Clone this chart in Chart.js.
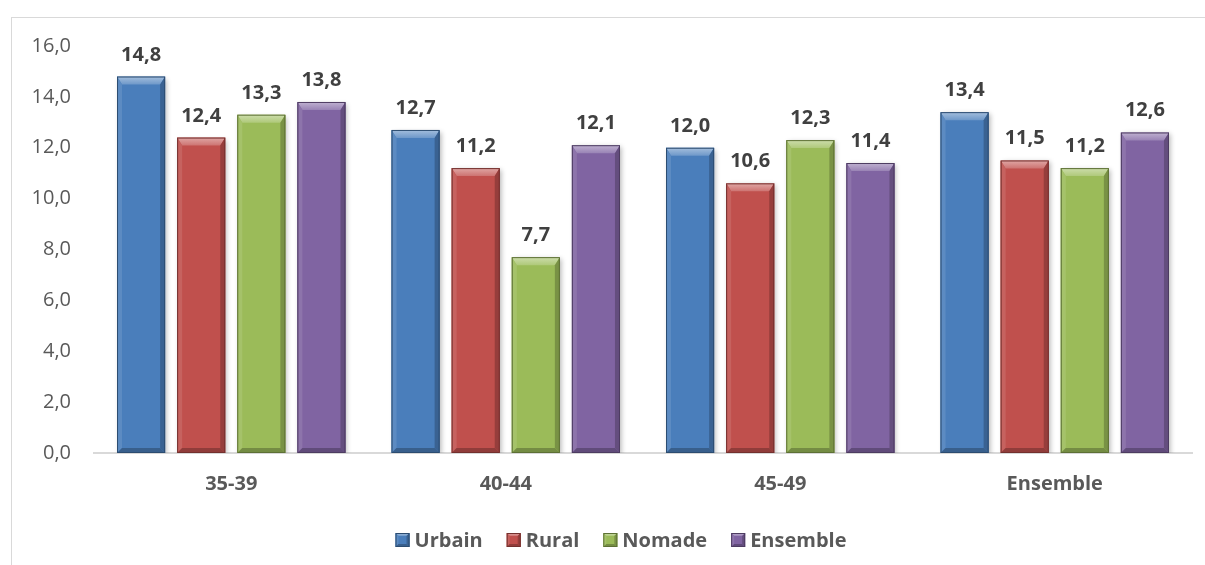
<!DOCTYPE html>
<html>
<head>
<meta charset="utf-8">
<script src="https://cdn.jsdelivr.net/npm/chart.js@4"></script>
<style>
  html, body { margin: 0; padding: 0; background: #fff; overflow: hidden; }
  #wrap { position: relative; width: 1205px; height: 565px; }
  #frame { position: absolute; left: 11px; top: 17px; width: 1300px; height: 700px; border: 1px solid #d9d9d9; box-sizing: border-box; }
  canvas { position: absolute; left: 0; top: 0; }
</style>
</head>
<body>
<div id="wrap">
  <div id="frame"></div>
  <canvas id="c" width="1205" height="565"></canvas>
</div>
<script>
// Age groups and the four residence series
const categories = ['35-39', '40-44', '45-49', 'Ensemble'];
const seriesNames = ['Urbain', 'Rural', 'Nomade', 'Ensemble'];
const urbain   = [14.8, 12.7, 12.0, 13.4];
const rural    = [12.4, 11.2, 10.6, 11.5];
const nomade   = [13.3, 7.7, 12.3, 11.2];
const ensemble = [13.8, 12.1, 11.4, 12.6];
const yTicks   = [0, 2, 4, 6, 8, 10, 12, 14, 16];

const colors = ['#4a7ebb', '#c0504d', '#9bbb59', '#8064a2'];
const fmt = v => v.toFixed(1).replace('.', ',');
const FONT = '"Open Sans", Lato, sans-serif';

function shade(hex, amt) {
  const n = parseInt(hex.slice(1), 16);
  let r = (n >> 16) & 255, g = (n >> 8) & 255, b = n & 255;
  const f = c => amt >= 0 ? Math.round(c + (255 - c) * amt) : Math.round(c * (1 + amt));
  return `rgb(${f(r)},${f(g)},${f(b)})`;
}

// Draw the bevel facets of a rectangle (used for the bars and the legend swatches)
function bevelRect(ctx, base, l, t, r, btm, b, s) {
  const tg = ctx.createLinearGradient(0, t, 0, t + b);
  tg.addColorStop(0, shade(base, 0.5));
  tg.addColorStop(1, shade(base, 0.2));
  ctx.fillStyle = tg;
  ctx.beginPath();
  ctx.moveTo(l, t); ctx.lineTo(r, t); ctx.lineTo(r - s, t + b); ctx.lineTo(l + s, t + b); ctx.closePath(); ctx.fill();
  ctx.fillStyle = shade(base, 0.1);
  ctx.beginPath();
  ctx.moveTo(l, t); ctx.lineTo(l + s, t + b); ctx.lineTo(l + s, btm - s); ctx.lineTo(l, btm); ctx.closePath(); ctx.fill();
  ctx.fillStyle = shade(base, -0.22);
  ctx.beginPath();
  ctx.moveTo(r, t); ctx.lineTo(r - s, t + b); ctx.lineTo(r - s, btm - s); ctx.lineTo(r, btm); ctx.closePath(); ctx.fill();
  ctx.fillStyle = shade(base, -0.25);
  ctx.beginPath();
  ctx.moveTo(l, btm); ctx.lineTo(l + s, btm - s); ctx.lineTo(r - s, btm - s); ctx.lineTo(r, btm); ctx.closePath(); ctx.fill();
  ctx.strokeStyle = shade(base, -0.4);
  ctx.lineWidth = 1;
  ctx.strokeRect(l + 0.5, t + 0.5, r - l - 1, btm - t - 1);
}

// Soft drop shadow under the bars
const shadowPlugin = {
  id: 'barShadow',
  beforeDatasetsDraw(chart) {
    const ctx = chart.ctx;
    ctx.save();
    ctx.shadowColor = 'rgba(0,0,0,0.28)';
    ctx.shadowBlur = 5;
    ctx.shadowOffsetX = 2;
    ctx.shadowOffsetY = 2;
  },
  afterDatasetsDraw(chart) {
    chart.ctx.restore();
  }
};

// Bevelled edges on each bar plus value labels above them
const bevelPlugin = {
  id: 'bevel',
  afterDatasetsDraw(chart) {
    const ctx = chart.ctx;
    chart.data.datasets.forEach((ds, di) => {
      const meta = chart.getDatasetMeta(di);
      meta.data.forEach((bar, i) => {
        const p = bar.getProps(['x', 'y', 'base', 'width'], true);
        const l = p.x - p.width / 2, r = p.x + p.width / 2;
        ctx.save();
        bevelRect(ctx, colors[di], l, p.y, r, p.base, 8, 5);
        ctx.fillStyle = '#404040';
        ctx.font = 'bold 20px ' + FONT;
        ctx.textAlign = 'center';
        ctx.textBaseline = 'alphabetic';
        ctx.fillText(fmt(ds.data[i]), p.x, p.y - 16);
        ctx.restore();
      });
    });
  }
};

// Legend row beneath the axis
const legendRow = {
  id: 'legendRow',
  afterDraw(chart) {
    const ctx = chart.ctx;
    const box = 14, gap = 5, itemGap = 24, cx = 621, baseline = 547;
    ctx.save();
    ctx.font = 'bold 20px ' + FONT;
    const items = chart.data.datasets.map((ds, k) => ({ text: ds.label, color: colors[k], w: box + gap + ctx.measureText(ds.label).width }));
    const total = items.reduce((a, it) => a + it.w, 0) + itemGap * (items.length - 1);
    let x = cx - total / 2;
    items.forEach(it => {
      ctx.fillStyle = it.color;
      ctx.fillRect(x, baseline - box, box, box);
      bevelRect(ctx, it.color, x, baseline - box, x + box, baseline, 3, 3);
      ctx.fillStyle = '#595959';
      ctx.textAlign = 'left';
      ctx.textBaseline = 'alphabetic';
      ctx.fillText(it.text, x + box + gap, baseline);
      x += it.w + itemGap;
    });
    ctx.restore();
  }
};

const seriesData = [urbain, rural, nomade, ensemble];

new Chart(document.getElementById('c'), {
  type: 'bar',
  data: {
    labels: categories,
    datasets: seriesNames.map((name, k) => ({
      label: name,
      data: seriesData[k],
      backgroundColor: colors[k],
      borderWidth: 0,
      categoryPercentage: 0.876,
      barPercentage: 0.8
    }))
  },
  options: {
    responsive: false,
    animation: false,
    events: [],
    layout: { padding: { left: 0, right: 13, top: 46, bottom: 0 } },
    plugins: {
      tooltip: { enabled: false },
      legend: { display: false }
    },
    scales: {
      x: {
        grid: { display: false, drawTicks: false },
        border: { color: '#d9d9d9', width: 2 },
        ticks: {
          color: '#595959',
          font: { family: FONT, size: 20, weight: 'bold' },
          padding: 19
        },
        afterFit(scale) { scale.height = 112; }
      },
      y: {
        min: 0,
        max: 16,
        afterBuildTicks(scale) { scale.ticks = yTicks.map(v => ({ value: v })); },
        grid: { display: false, drawTicks: false },
        border: { display: false },
        ticks: {
          color: '#595959',
          font: { family: FONT, size: 20 },
          padding: 23,
          callback: v => fmt(v)
        },
        afterFit(scale) { scale.width = 94; }
      }
    }
  },
  plugins: [shadowPlugin, bevelPlugin, legendRow]
});
</script>
</body>
</html>
